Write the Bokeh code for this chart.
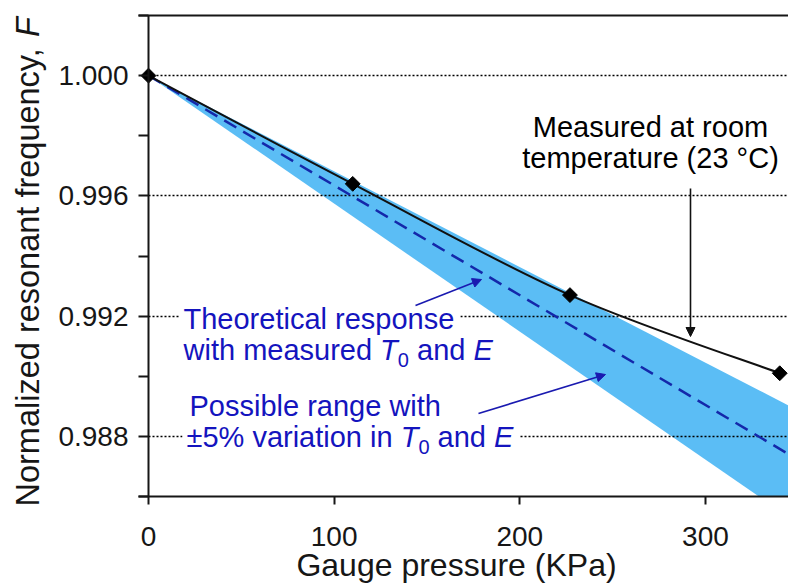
import math
import numpy as np
from bokeh.plotting import figure
from bokeh.models import (Range1d, FixedTicker, LinearAxis, Label, Arrow, Grid,
                          NormalHead, PrintfTickFormatter, BoxAnnotation)
from bokeh.embed import file_html
from bokeh.resources import INLINE

# ---------------- data ----------------
pressure_kpa = [0, 110, 227, 340]
measured_F = [1.0000, 0.9964, 0.9927, 0.9901]

theory_kpa = [0, 345]
theory_F = [1.0000, 0.98740]

band_kpa = [0, 345]
band_upper_F = [1.0000, 0.98902]
band_lower_F = [1.0000, 0.98531]

x_tick_values = [0, 100, 200, 300]
y_tick_values = [0.988, 0.992, 0.996, 1.000]
y_minor_values = [0.986, 0.990, 0.994, 0.998, 1.002]
y_axis_min, y_axis_max = 0.986, 1.002

# ---------------- layout ----------------
CANVAS_W, CANVAS_H = 788, 585
PX_PER_KPA = 1.8566           # horizontal scale
PX_PER_F = 481 / 0.016        # vertical scale
ORIGIN_PX, ONE_PY = 148.0, 15 + 0.002 * PX_PER_F   # page px of x = 0 and of F = 1.000

def dx(px):
    return (px - ORIGIN_PX) / PX_PER_KPA

def dy(py):
    return 1.0 - (py - ONE_PY) / PX_PER_F

X_START, X_END = dx(0), dx(CANVAS_W)
Y_START, Y_END = dy(CANVAS_H), dy(0)
AXIS_LEFT = dx(138)           # where the horizontal spines start

FONT = "Liberation Sans"
BLUE_TXT = "#1414BE"
BLUE_ARROW = "#1A1AB0"
BAND = "#5BBDF5"
DASH = "#1428AA"
INK = "#161616"
BASE_SHIFT = 0.40             # label baseline correction, in em

W = {' ': 278, ',': 278, '.': 278, '%': 889, '(': 333, ')': 333, '±': 549, '°': 400,
     '0': 556, '1': 556, '2': 556, '3': 556, '5': 556,
     'C': 722, 'E': 667, 'F': 611, 'G': 778, 'K': 667, 'M': 833, 'N': 722, 'P': 667, 'T': 611,
     'a': 556, 'b': 556, 'c': 500, 'd': 556, 'e': 556, 'f': 278, 'g': 556, 'h': 556, 'i': 222,
     'l': 222, 'm': 833, 'n': 556, 'o': 556, 'p': 556, 'q': 556, 'r': 333, 's': 500, 't': 278,
     'u': 556, 'v': 500, 'w': 722, 'y': 500, 'z': 500}

def tw(s, size):
    return sum(W.get(c, 556) for c in s) * size / 1000.0

p = figure(frame_width=CANVAS_W, frame_height=CANVAS_H,
           x_range=Range1d(X_START, X_END), y_range=Range1d(Y_START, Y_END),
           output_backend="svg", toolbar_location=None, min_border=0)
p.outline_line_color = None
p.background_fill_color = "white"
p.border_fill_color = "white"

# ---- grid ----
p.xgrid.visible = False
grid_kw = dict(line_color="black", line_width=1.4, line_dash="2 2")
if "cross_bounds" in Grid.properties():
    p.ygrid.ticker = FixedTicker(ticks=y_tick_values)
    p.ygrid.cross_bounds = (0, X_END)
    p.ygrid.grid_line_color = grid_kw["line_color"]
    p.ygrid.grid_line_width = grid_kw["line_width"]
    p.ygrid.grid_line_dash = grid_kw["line_dash"]
else:
    p.ygrid.visible = False
    p.segment(x0=[0] * len(y_tick_values), x1=[X_END] * len(y_tick_values),
              y0=y_tick_values, y1=y_tick_values, level="underlay", **grid_kw)

# ---- axes (drawn at fixed data locations) ----
for ax in (p.xaxis[0], p.yaxis[0]):
    ax.axis_line_width = 2
    ax.axis_line_color = INK
    ax.major_tick_line_color = INK
    ax.major_tick_line_width = 2
    ax.minor_tick_line_color = INK
    ax.minor_tick_line_width = 2
    ax.major_tick_in = 0
    ax.minor_tick_in = 0
    ax.major_label_text_font = FONT
    ax.major_label_text_font_size = "28px"
    ax.major_label_text_color = INK

xa = p.xaxis[0]
xa.ticker = FixedTicker(ticks=x_tick_values)
xa.fixed_location = y_axis_min
xa.bounds = (AXIS_LEFT, X_END)
xa.major_tick_out = 8
xa.minor_tick_line_color = None
xa.major_label_standoff = 22

ya = p.yaxis[0]
ya.ticker = FixedTicker(ticks=y_tick_values, minor_ticks=y_minor_values)
ya.formatter = PrintfTickFormatter(format="%.3f")
ya.fixed_location = 0
ya.bounds = (y_axis_min, y_axis_max)
ya.major_tick_out = 10
ya.minor_tick_out = 10
ya.major_label_standoff = 10

# top spine: an axis line with no ticks and no labels
top = LinearAxis(fixed_location=y_axis_max, bounds=(AXIS_LEFT, X_END),
                 ticker=FixedTicker(ticks=[], minor_ticks=[]),
                 axis_line_width=2, axis_line_color=INK,
                 major_tick_line_color=None, minor_tick_line_color=None,
                 major_tick_out=0, minor_tick_out=0, major_tick_in=0, minor_tick_in=0,
                 major_label_text_font_size="0px", major_label_standoff=0)
p.add_layout(top, "above")

# ---- band (kept inside the axis box) ----
bx = np.array(band_kpa, float)
lo = np.array(band_lower_F, float)
up = np.array(band_upper_F, float)
xs = set(bx.tolist())
for i in range(len(bx) - 1):
    if (lo[i] - y_axis_min) * (lo[i + 1] - y_axis_min) < 0:
        xs.add(bx[i] + (y_axis_min - lo[i]) * (bx[i + 1] - bx[i]) / (lo[i + 1] - lo[i]))
xs = np.array(sorted(xs))
band_lo_c = np.maximum(np.interp(xs, bx, lo), y_axis_min)
band_up_c = np.maximum(np.interp(xs, bx, up), y_axis_min)
p.varea(x=xs, y1=band_lo_c, y2=band_up_c, fill_color=BAND, level="image")

# ---- lines and points ----
p.line(theory_kpa, theory_F, line_color=DASH, line_width=2.5, line_dash="14 8")

n = len(pressure_kpa)
bx0, by0, bx1, by1, bcx0, bcy0, bcx1, bcy1 = ([] for _ in range(8))
for i in range(n - 1):
    xm, ym = pressure_kpa[max(i - 1, 0)], measured_F[max(i - 1, 0)]
    xa_, ya_ = pressure_kpa[i], measured_F[i]
    xb_, yb_ = pressure_kpa[i + 1], measured_F[i + 1]
    xp, yp = pressure_kpa[min(i + 2, n - 1)], measured_F[min(i + 2, n - 1)]
    bx0.append(xa_); by0.append(ya_); bx1.append(xb_); by1.append(yb_)
    bcx0.append(xa_ + (xb_ - xm) / 6.0); bcy0.append(ya_ + (yb_ - ym) / 6.0)
    bcx1.append(xb_ - (xp - xa_) / 6.0); bcy1.append(yb_ - (yp - ya_) / 6.0)
p.bezier(x0=bx0, y0=by0, x1=bx1, y1=by1, cx0=bcx0, cy0=bcy0, cx1=bcx1, cy1=bcy1,
         line_color="#111111", line_width=2)

p.scatter(pressure_kpa, measured_F, marker="square", angle=math.pi / 4, size=10.5,
          fill_color="black", line_color="black")

# ---- text helpers ----
def label(text, px, py, size=29, color="black", style="normal", align="left", angle=0.0):
    if angle:
        px = px - BASE_SHIFT * size
    else:
        py = py - BASE_SHIFT * size
    p.add_layout(Label(x=dx(px), y=dy(py), text=text, text_font=FONT,
                       text_font_size=f"{size}px", text_font_style=style,
                       text_color=color, text_align=align, text_baseline="alphabetic",
                       angle=angle))

def white_box(left_px, base_px, width_px, size=29):
    # opaque box behind a text line, so that the dotted grid stops at the text
    p.add_layout(BoxAnnotation(left=dx(left_px - 4), right=dx(left_px + width_px + 6),
                               top=dy(base_px - 0.78 * size), bottom=dy(base_px + 0.26 * size),
                               fill_color="white", fill_alpha=1.0, line_color=None))

def rich_line(parts, left_px, base_px, color, size=29, sub_size=20, sub_drop=6, box=False):
    total = sum(tw(t, sub_size if k == "sub" else size) for t, k in parts)
    if box:
        white_box(left_px, base_px, total, size)
    x = left_px
    for text, kind in parts:
        sz = sub_size if kind == "sub" else size
        drop = sub_drop if kind == "sub" else 0
        style = "italic" if kind == "it" else "normal"
        lead = len(text) - len(text.lstrip(" "))
        xs_ = x + tw(" " * lead, sz)
        if text.strip():
            label(text.strip(), xs_, base_px + drop, size=sz, color=color, style=style)
        x += tw(text, sz)

# axis titles
label("Gauge pressure (KPa)", 456, 577, size=32, align="center", color=INK)
ylab = "Normalized resonant frequency, "
YL = 32.5
label(ylab.strip(), 40, 506, size=YL, angle=math.pi / 2, color=INK)
label("F", 40, 506 - tw(ylab, YL), size=YL, style="italic", angle=math.pi / 2, color=INK)

# annotations
label("Measured at room", 650, 138, align="center")
label("temperature (23 °C)", 650, 169, align="center")

rich_line([("Theoretical response", "n")], 183, 330, BLUE_TXT, box=True)
rich_line([("with measured ", "n"), ("T", "it"), ("0", "sub"), (" and ", "n"), ("E", "it")],
          183, 361, BLUE_TXT, box=True)
rich_line([("Possible range with", "n")], 189, 417, BLUE_TXT, box=True)
rich_line([("±5% variation in ", "n"), ("T", "it"), ("0", "sub"), (" and ", "n"), ("E", "it")],
          186, 448, BLUE_TXT, box=True)

# arrows
def arrow(x0, y0, x1, y1, color):
    p.add_layout(Arrow(end=NormalHead(size=9, fill_color=color, line_color=color, line_width=1),
                       x_start=dx(x0), y_start=dy(y0), x_end=dx(x1), y_end=dy(y1),
                       line_color=color, line_width=1.6))

arrow(690, 188, 690, 336, "#111111")
arrow(415, 305, 481, 279, BLUE_ARROW)
arrow(478, 413, 605, 374, BLUE_ARROW)

open("out.html", "w").write(file_html(p, INLINE))
